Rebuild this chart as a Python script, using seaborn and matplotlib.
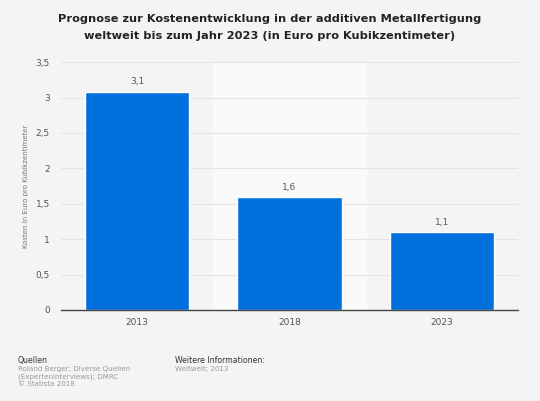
import matplotlib
matplotlib.use("Agg")
import matplotlib.pyplot as plt
import seaborn as sns
import pandas as pd

# data
years = ["2013", "2018", "2023"]
kosten = [3.08, 1.59, 1.095]
labels = ["3,1", "1,6", "1,1"]
yticks = [0, 0.5, 1, 1.5, 2, 2.5, 3, 3.5]
ytick_labels = ["0", "0,5", "1", "1,5", "2", "2,5", "3", "3,5"]

df = pd.DataFrame({"Jahr": years, "Kosten": kosten})

sns.set_theme(style="white")
plt.rcParams["font.family"] = ["DejaVu Sans"]

bg = "#f4f4f4"
fig = plt.figure(figsize=(5.4, 4.01), dpi=100, facecolor=bg)
ax = fig.add_axes([0.113, 0.227, 0.846, 0.618])
ax.set_facecolor(bg)

# lighter band behind the middle category
ax.axvspan(0.5, 1.5, color="#fafafa", zorder=0)

sns.barplot(data=df, x="Jahr", y="Kosten", color="#0071dc", width=0.685,
            saturation=1, ax=ax, zorder=2)

for i, (v, lab) in enumerate(zip(kosten, labels)):
    ax.text(i, v + 0.08, lab, ha="center", va="bottom", fontsize=6.5, color="#555555")

ax.set_xlim(-0.5, 2.5)
ax.set_ylim(0, 3.5)
ax.set_yticks(yticks)
ax.set_yticklabels(ytick_labels)
ax.yaxis.grid(True, color="#e4e4e4", linewidth=0.8, zorder=1)
ax.set_axisbelow(True)
for s in ["top", "right", "left"]:
    ax.spines[s].set_visible(False)
ax.spines["bottom"].set_color("#444444")
ax.spines["bottom"].set_linewidth(1)
ax.tick_params(axis="both", length=0, labelsize=6.5, colors="#555555")
ax.tick_params(axis="y", pad=8)
ax.tick_params(axis="x", pad=6)
ax.set_xlabel("")
ax.set_ylabel("Kosten in Euro pro Kubikzentimeter", fontsize=5.0, color="#777777")
ax.yaxis.set_label_coords(-0.07, 0.5)

fig.text(0.5, 0.965, "Prognose zur Kostenentwicklung in der additiven Metallfertigung\n"
         "weltweit bis zum Jahr 2023 (in Euro pro Kubikzentimeter)",
         ha="center", va="top", fontsize=8.2, fontweight="bold", color="#222222",
         linespacing=1.9)

fig.text(0.033, 0.113, "Quellen", fontsize=5.6, color="#333333", va="top")
fig.text(0.033, 0.088, "Roland Berger; Diverse Quellen\n(Experteninterviews); DMRC\n© Statista 2018",
         fontsize=5.1, color="#999999", va="top", linespacing=1.3)
fig.text(0.324, 0.113, "Weitere Informationen:", fontsize=5.6, color="#333333", va="top")
fig.text(0.324, 0.088, "Weltweit; 2013", fontsize=5.1, color="#999999", va="top")

fig.savefig("out.png", dpi=100, facecolor=bg)
